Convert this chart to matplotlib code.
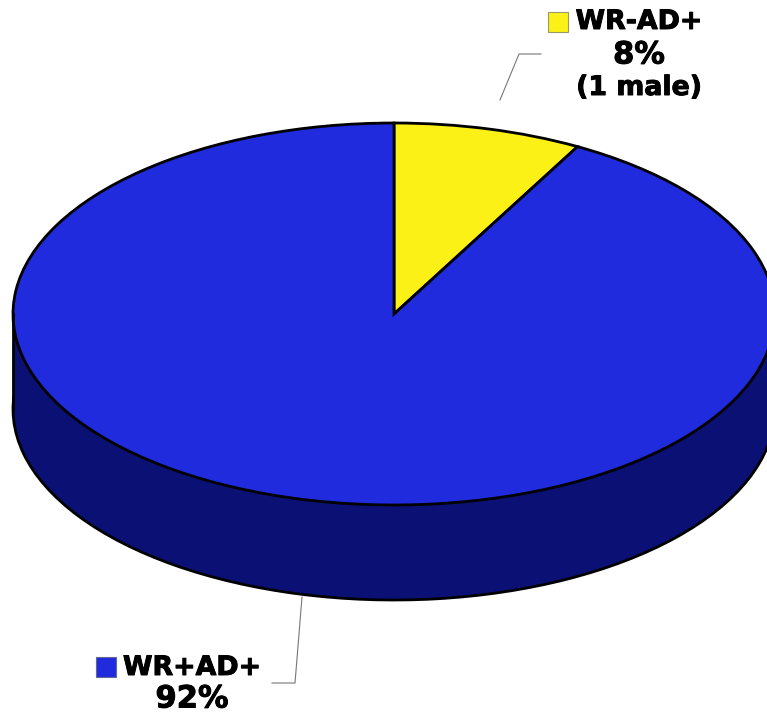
import matplotlib
matplotlib.use('Agg')
import matplotlib.pyplot as plt
import matplotlib.patheffects as pe
from matplotlib.patches import Rectangle

labels = ['WR-AD+', 'WR+AD+']
values = [8, 92]
topColors = ['#FCF116', '#1F2BDC']
sideColors = ['#7E7A0B', '#0B1174']

W, H = 767, 713
cx, cy = 394, 314      # pie centre in pixels
rx, ry = 381, 191      # ellipse radii
depth = 95 / ry

plt.rcParams['font.family'] = 'DejaVu Sans'
fig = plt.figure(figsize=(W / 100, H / 100), dpi=100)

ax = fig.add_axes([0, 0, 1, 1])
edge = {'edgecolor': 'black', 'linewidth': 2.0}
ax.pie(values, colors=sideColors, startangle=90, counterclock=False,
       center=(0, -depth), radius=1, wedgeprops=edge)
ax.add_patch(Rectangle((-1, -depth), 2, depth, facecolor=sideColors[1], edgecolor='none'))
ax.plot([-1, -1], [-depth, 0], color='black', lw=2.0)
ax.plot([1, 1], [-depth, 0], color='black', lw=2.0)
ax.pie(values, colors=topColors, startangle=90, counterclock=False,
       center=(0, 0), radius=1, wedgeprops=edge)
ax.set_aspect('auto')
ax.set_xlim(-cx / rx, (W - cx) / rx)
ax.set_ylim((cy - H) / ry, cy / ry)
ax.axis('off')

# overlay in pixel coordinates for labels and leader lines
ov = fig.add_axes([0, 0, 1, 1])
ov.set_xlim(0, W)
ov.set_ylim(H, 0)
ov.axis('off')
ov.patch.set_alpha(0)

fs = 19.3
pctFs = 22
heavy = [pe.withStroke(linewidth=0.7, foreground='black')]

def label(x, y, s, size):
    ov.text(x, y, s, fontsize=size, fontweight='bold', ha='center', va='center', path_effects=heavy)

ov.plot([500, 519, 541], [100, 54, 54], color='#777777', lw=0.8)
ov.plot([302, 295, 272], [597, 683, 683], color='#777777', lw=0.8)

ov.add_patch(Rectangle((548, 11.5), 20, 20, facecolor=topColors[0], edgecolor='#999966', lw=0.8))
label(639, 22, labels[0], fs)
label(639, 55, '8%', pctFs)
label(639, 88, '(1 male)', fs)

ov.add_patch(Rectangle((96, 656.5), 20, 20, facecolor=topColors[1], edgecolor='#666699', lw=0.8))
label(192, 668, labels[1], fs)
label(192, 699, '92%', pctFs)

fig.savefig('out.png', dpi=100)
